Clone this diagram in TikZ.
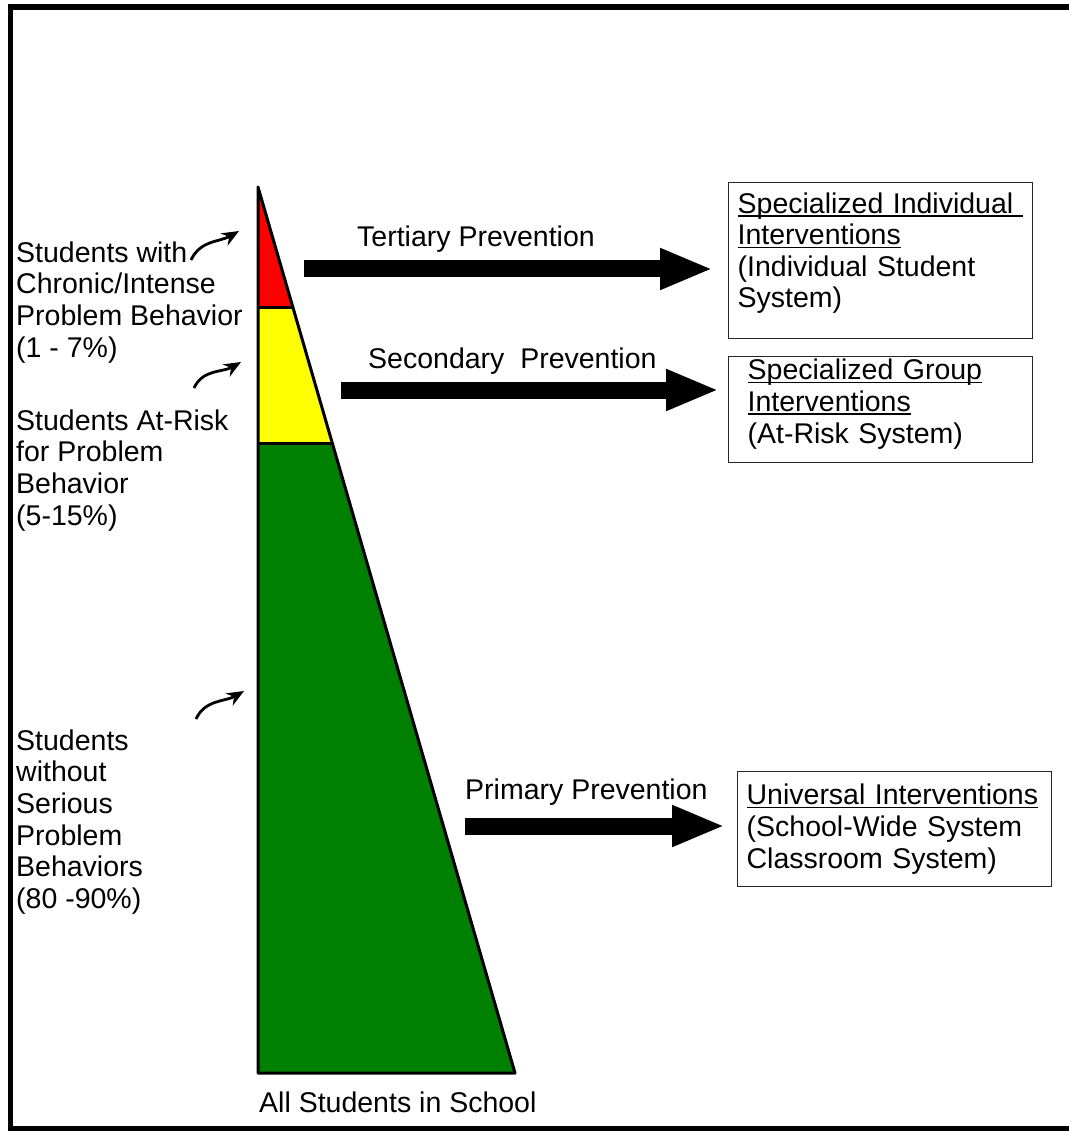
\documentclass[tikz,border=0pt]{standalone}
\usepackage{fontspec}
\setmainfont{Liberation Sans}
\usetikzlibrary{arrows.meta}
\definecolor{tierred}{HTML}{FF0000}
\definecolor{tieryellow}{HTML}{FFFF00}
\definecolor{tiergreen}{HTML}{008000}
\newcommand\undl[1]{\leavevmode\setbox0\hbox{#1}\rlap{\rule[-3.5pt]{\wd0}{1.6pt}}\box0}
\tikzset{
  txt/.style={inner sep=0pt, font=\fontsize{28.5}{31.6}\selectfont},
  grouplabel/.style={txt, anchor=north west, align=left},
  levelbox/.style={draw=black!85, line width=1.3pt, txt, anchor=north west, align=left, inner xsep=9pt},
  bigarrow/.style={line width=17pt, -{Triangle[length=53pt,width=38pt]}},
  pointer/.style={line width=2.8pt, -{Stealth[length=17pt,width=14pt]}},
}
\begin{document}
\begin{tikzpicture}[x=1pt,y=-1pt]
\useasboundingbox (0,0) rectangle (1068,1131);
% frame
\draw[line width=5.5pt] (1075,7) -- (10.5,7) -- (10.5,1128.5) -- (1075,1128.5);
% pyramid
\coordinate (apex) at (258,187);
\coordinate (redL) at (258,307);
\coordinate (redR) at (293,307);
\coordinate (yelL) at (258,443);
\coordinate (yelR) at (332.5,443);
\coordinate (baseL) at (258,1073);
\coordinate (baseR) at (515,1073);
\fill[tierred] (apex) -- (redR) -- (redL) -- cycle;
\fill[tieryellow] (redL) -- (redR) -- (yelR) -- (yelL) -- cycle;
\fill[tiergreen] (yelL) -- (yelR) -- (baseR) -- (baseL) -- cycle;
\draw[line width=3pt, line join=round] (apex) -- (baseR) -- (baseL) -- cycle;
\draw[line width=3pt] (redL) -- (redR) (yelL) -- (yelR);
\node[txt, anchor=base west] (alllbl) at (259,1112) {All Students in School};
% group labels
\node[grouplabel] (chronic) at (16,241.5) {Students with\\Chronic/Intense\\Problem Behavior\\(1 - 7\%)};
\node[grouplabel] (atrisk) at (16,409.5) {Students At-Risk\\for Problem\\Behavior\\(5-15\%)};
\node[grouplabel] (without) at (16,729.5) {Students\\without\\Serious\\Problem\\Behaviors\\(80 -90\%)};
\coordinate (p1) at (191,260); \coordinate (q1) at (239,231);
\coordinate (p2) at (194,388); \coordinate (q2) at (241,362);
\coordinate (p3) at (196,719); \coordinate (q3) at (244,691);
\draw[pointer] (p1) to[out=65,in=210] (q1);
\draw[pointer] (p2) to[out=65,in=210] (q2);
\draw[pointer] (p3) to[out=65,in=210] (q3);
% intervention boxes
\node[levelbox, text width=286pt, minimum height=156pt] (indiv) at (728,182)
  {\undl{Specialized Individual\ }\\\undl{Interventions}\\(Individual Student\\System)\rule[-21pt]{0pt}{21pt}};
\node[levelbox, inner xsep=19pt, text width=266pt, minimum height=106pt] (group) at (728,356)
  {\undl{Specialized Group}\\\undl{Interventions}\\(At-Risk System)\rule[-17pt]{0pt}{17pt}};
\node[levelbox, text width=296pt, minimum height=115pt] (univ) at (737,771)
  {\undl{Universal Interventions}\\(School-Wide System\\Classroom System)};
% prevention arrows
\coordinate (tert) at (304,269);
\coordinate (sec) at (341,390);
\coordinate (prim) at (465,826);
\draw[bigarrow, shorten >=15pt] (tert) -- (indiv.west |- tert);
\draw[bigarrow, shorten >=9pt] (sec) -- (group.west |- sec);
\draw[bigarrow, shorten >=12pt] (prim) -- (univ.west |- prim);
\node[txt, anchor=base west] (tertlbl) at (357,247) {Tertiary Prevention};
\node[txt, anchor=base west] (seclbl) at (368,368) {Secondary\ \ Prevention};
\node[txt, anchor=base west] (primlbl) at (465,799) {Primary Prevention};
\end{tikzpicture}
\end{document}
